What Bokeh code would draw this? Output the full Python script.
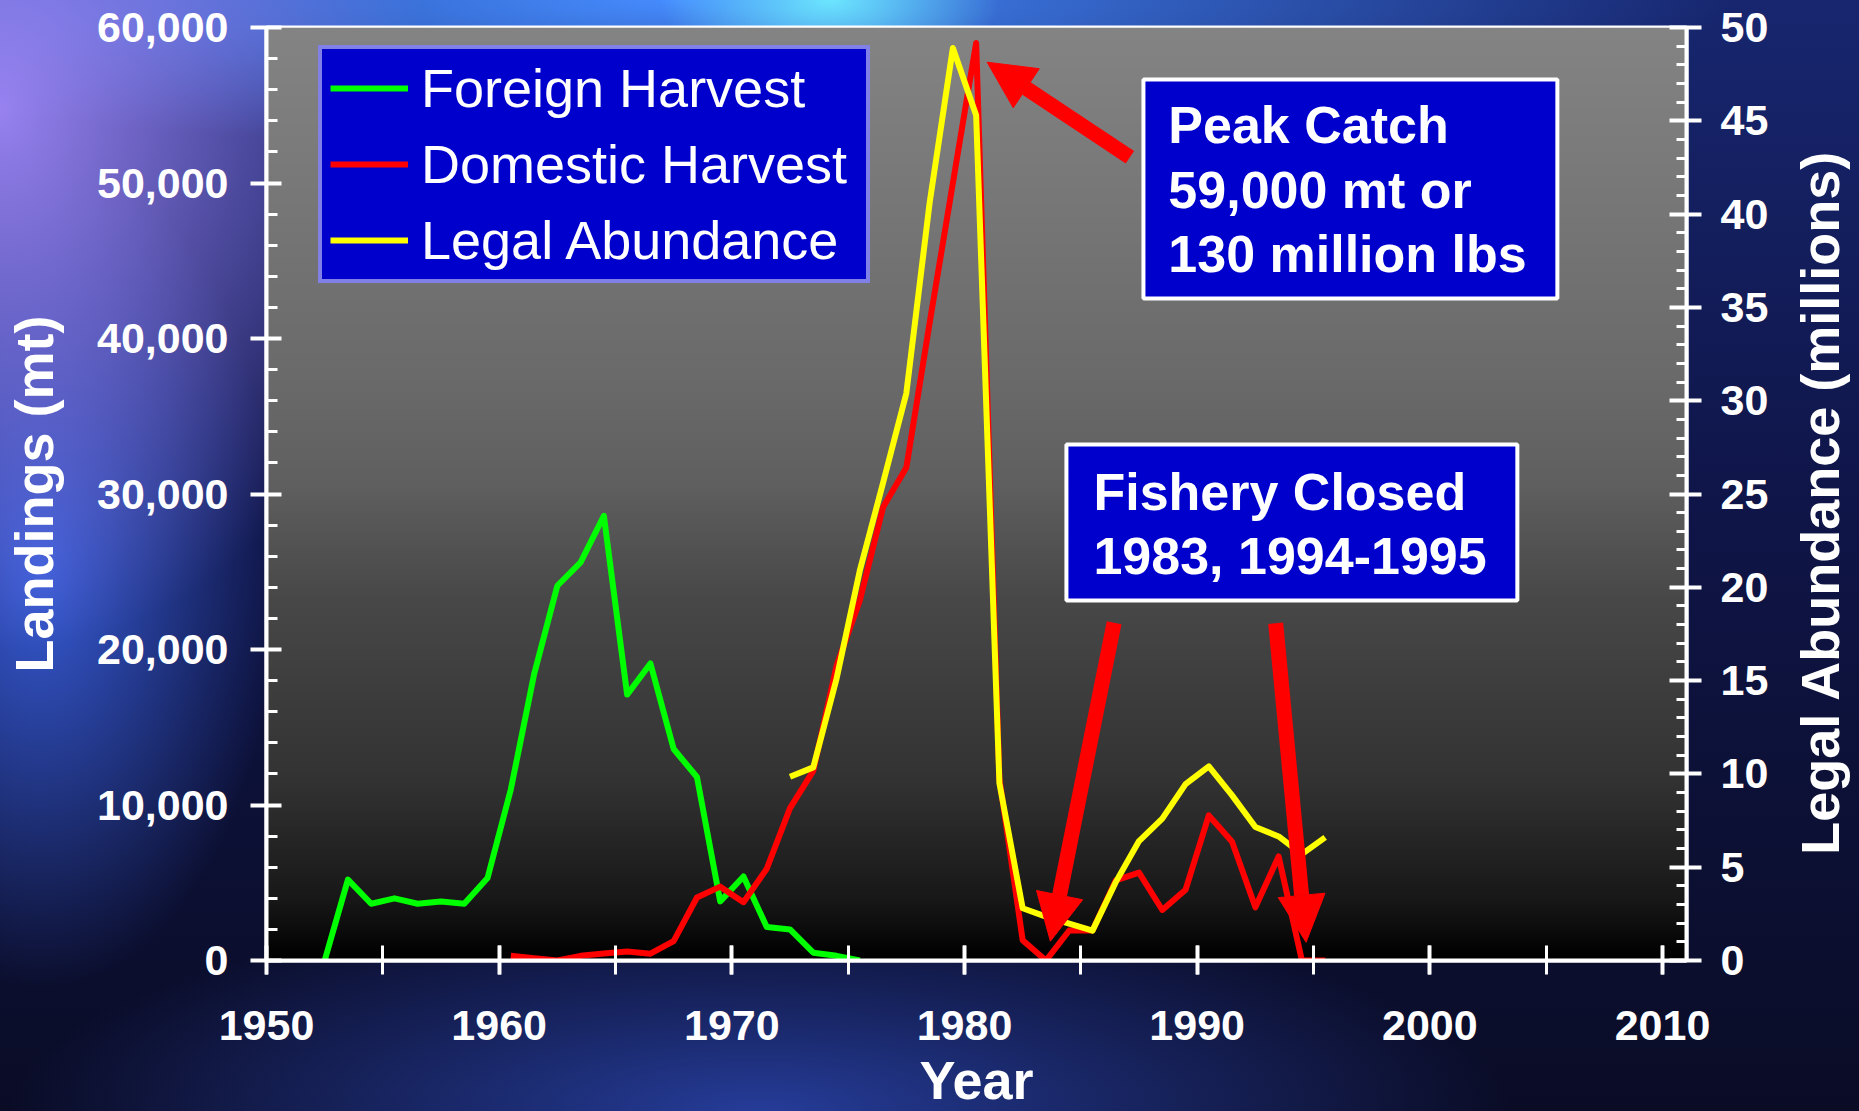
import numpy as np
from bokeh.plotting import figure
from bokeh.models import (Range1d, LinearAxis, SingleIntervalTicker, FixedTicker,
                          NumeralTickFormatter, ColumnDataSource, Legend, LegendItem,
                          BoxAnnotation, Label, Arrow, NormalHead)
from bokeh.transform import dodge
from bokeh.embed import file_html
from bokeh.resources import INLINE
import math

# ---------------- data ----------------
foreign_years = list(range(1952, 1976))
foreign_mt = [0, 5200, 3650, 4000, 3650, 3800, 3650, 5300,
              11000, 18400, 24100, 25600, 28600, 17100, 19100, 13600, 11800,
              3800, 5400, 2150, 2000, 500, 300, 0]

domestic_years = list(range(1960, 1996))
domestic_mt = [300, 150, 0, 300, 450, 580, 440, 1250, 4050, 4750,
               3750, 5900, 9800, 12200, 18950, 23150, 29150, 31700, 41000, 50000,
               59000, 11700, 1300, 0, 1930, 1930, 5150, 5650, 3250, 4550,
               9330, 7630, 3420, 6690, 0, 0]

abundance_years = list(range(1972, 1996))
abundance_millions = [9.85, 10.35, 15.1, 20.9, 25.6, 30.4, 40.6, 48.9,
                      45.3, 9.5, 2.8, 2.35, 1.98, 1.6, 4.2, 6.4, 7.6, 9.45,
                      10.4, 8.85, 7.15, 6.65, 5.7, 6.6]

series_names = ["Foreign Harvest", "Domestic Harvest", "Legal Abundance"]
series_colors = ["#00FF00", "#FF0000", "#FFFF00"]

peak_lines = ["Peak Catch", "59,000 mt or", "130 million lbs"]
closed_lines = ["Fishery Closed", "1983, 1994-1995"]

FONT = "Liberation Sans"
BOX_BLUE = "#0000CC"

# ---------------- figure ----------------
p = figure(frame_width=1420, frame_height=933,
           x_range=Range1d(1950, 2011.03), y_range=Range1d(0, 60000),
           output_backend="svg", toolbar_location=None,
           min_border_left=266, min_border_right=173,
           min_border_top=27, min_border_bottom=151)
p.extra_y_ranges = {"abund": Range1d(0, 50)}

p.styles = {
    "background-image": (
        "radial-gradient(ellipse 170px 80px at 830px 0px, rgba(110,235,255,0.95), rgba(110,235,255,0)),"
        "radial-gradient(ellipse 430px 540px at 0px 110px, rgba(165,140,255,0.9), rgba(165,140,255,0)),"
        "radial-gradient(ellipse 1050px 150px at 680px 0px, rgba(70,140,255,1), rgba(70,140,255,0)),"
        "radial-gradient(ellipse 240px 420px at 40px 570px, rgba(60,100,230,0.9), rgba(60,100,230,0)),"
        "radial-gradient(ellipse 750px 210px at 760px 1111px, rgba(40,65,165,0.9), rgba(40,65,165,0)),"
        "linear-gradient(180deg, #17266f 0%, #0f1548 45%, #0c1034 75%, #0a0c26 100%)"
    )
}
p.border_fill_alpha = 0
p.background_fill_color = "#404040"
p.outline_line_color = "white"
p.outline_line_width = 4
p.grid.visible = False

# gray gradient of the plot area (decoration)
stops_f = [0.0, 0.064, 0.193, 0.386, 0.514, 0.622, 1.0]
stops_g = [0, 24, 51, 72, 96, 106, 132]
H = 400
fr = np.linspace(0, 1, H)
g = np.interp(fr, stops_f, stops_g).astype(np.uint32)
img = np.zeros((H, 1), dtype=np.uint32)
img[:, 0] = (255 << 24) | (g << 16) | (g << 8) | g
xr, yr = p.x_range, p.y_range
p.image_rgba(image=[img], x=xr.start, y=yr.start, dw=xr.end - xr.start, dh=yr.end - yr.start)

# ---------------- lines ----------------
src_f = ColumnDataSource(dict(year=foreign_years, v=foreign_mt))
src_d = ColumnDataSource(dict(year=domestic_years, v=domestic_mt))
src_a = ColumnDataSource(dict(year=abundance_years, v=abundance_millions))

r_f = p.line(x=dodge("year", 0.5, range=p.x_range), y="v", source=src_f,
             line_color=series_colors[0], line_width=6, line_join="round")
r_d = p.line(x=dodge("year", 0.5, range=p.x_range), y="v", source=src_d,
             line_color=series_colors[1], line_width=6, line_join="round")
r_a = p.line(x=dodge("year", 0.5, range=p.x_range), y="v", source=src_a,
             line_color=series_colors[2], line_width=6, line_join="round",
             y_range_name="abund")

# ---------------- axes ----------------
def style_axis(ax, size="43px"):
    ax.axis_line_color = "white"
    ax.axis_line_width = 4
    ax.major_tick_line_color = "white"
    ax.major_tick_line_width = 4
    ax.minor_tick_line_color = "white"
    ax.minor_tick_line_width = 3
    ax.major_label_text_color = "white"
    ax.major_label_text_font = FONT
    ax.major_label_text_font_style = "bold"
    ax.major_label_text_font_size = size
    ax.axis_label_text_color = "white"
    ax.axis_label_text_font = FONT
    ax.axis_label_text_font_style = "bold"
    ax.axis_label_text_font_size = "54px"

xa = p.xaxis[0]
style_axis(xa)
xa.ticker = SingleIntervalTicker(interval=10, num_minor_ticks=2)
xa.major_tick_in = 15
xa.major_tick_out = 14
xa.minor_tick_in = 15
xa.minor_tick_out = 14
xa.major_label_standoff = 36
xa.axis_label = "Year"
xa.axis_label_standoff = 7

ya = p.yaxis[0]
style_axis(ya)
ya.ticker = SingleIntervalTicker(interval=10000, num_minor_ticks=5)
ya.formatter = NumeralTickFormatter(format="0,0")
ya.major_tick_in = 15
ya.major_tick_out = 16
ya.minor_tick_in = 11
ya.minor_tick_out = 0
ya.major_label_standoff = 22
ya.axis_label = "Landings (mt)"
ya.axis_label_standoff = 30

ra = LinearAxis(y_range_name="abund",
                ticker=SingleIntervalTicker(interval=5, num_minor_ticks=5))
style_axis(ra)
ra.major_tick_in = 17
ra.major_tick_out = 15
ra.minor_tick_in = 10
ra.minor_tick_out = 0
ra.major_label_standoff = 19
p.add_layout(ra, "right")

# right-hand title, read bottom to top, drawn as a single tick label
right_title = "Legal Abundance (millions)"
title_start = 6800
lab_ax = LinearAxis(ticker=FixedTicker(ticks=[title_start]),
                    major_label_overrides={title_start: right_title})
lab_ax.axis_line_color = None
lab_ax.major_tick_line_color = None
lab_ax.minor_tick_line_color = None
lab_ax.major_tick_in = 0
lab_ax.major_tick_out = 0
lab_ax.major_label_standoff = 49
lab_ax.major_label_orientation = math.pi / 2
lab_ax.major_label_text_color = "white"
lab_ax.major_label_text_font = FONT
lab_ax.major_label_text_font_style = "bold"
lab_ax.major_label_text_font_size = "54px"
p.add_layout(lab_ax, "right")

# ---------------- legend ----------------
legend = Legend(items=[LegendItem(label=series_names[0], renderers=[r_f]),
                       LegendItem(label=series_names[1], renderers=[r_d]),
                       LegendItem(label=series_names[2], renderers=[r_a])],
                location=(52, 677))
legend.label_text_font = FONT
legend.label_text_font_size = "54px"
legend.label_text_color = "white"
legend.background_fill_color = BOX_BLUE
legend.background_fill_alpha = 1
legend.border_line_color = "white"
legend.border_line_width = 4
legend.glyph_width = 78
legend.glyph_height = 56
legend.label_height = 56
legend.label_width = 437
legend.label_standoff = 13
legend.spacing = 14
legend.padding = 8
legend.margin = 0
p.add_layout(legend)

# ---------------- annotation boxes ----------------
def box(left, right, top, bottom):
    p.add_layout(BoxAnnotation(left=left, right=right, top=top, bottom=bottom,
                               fill_color=BOX_BLUE, fill_alpha=1,
                               line_color="white", line_width=4, line_alpha=1))

def txt(x, y, s):
    p.add_layout(Label(x=x, y=y, text=s, text_align="left", text_baseline="alphabetic",
                       text_font=FONT, text_font_style="bold", text_font_size="52px",
                       text_color="white"))

box(1987.69, 2005.48, 56656, 42572)
for s, yy in zip(peak_lines, [53700, 49580, 45460]):
    txt(1988.76, yy, s)

box(1984.38, 2003.76, 33183, 23151)
for s, yy in zip(closed_lines, [30160, 26040]):
    txt(1985.54, yy, s)

# ---------------- arrows ----------------
def arrow(x0, y0, x1, y1):
    p.add_layout(Arrow(end=NormalHead(size=47, fill_color="#FF0000", line_color="#FF0000",
                                      line_width=1),
                       x_start=x0, y_start=y0, x_end=x1, y_end=y1,
                       line_color="#FF0000", line_width=15))

arrow(1987.108, 51659, 1980.971, 57768)
arrow(1986.43, 21717, 1983.69, 1241)
arrow(1993.373, 21685, 1994.68, 1177)

open("out.html", "w").write(file_html(p, INLINE))
